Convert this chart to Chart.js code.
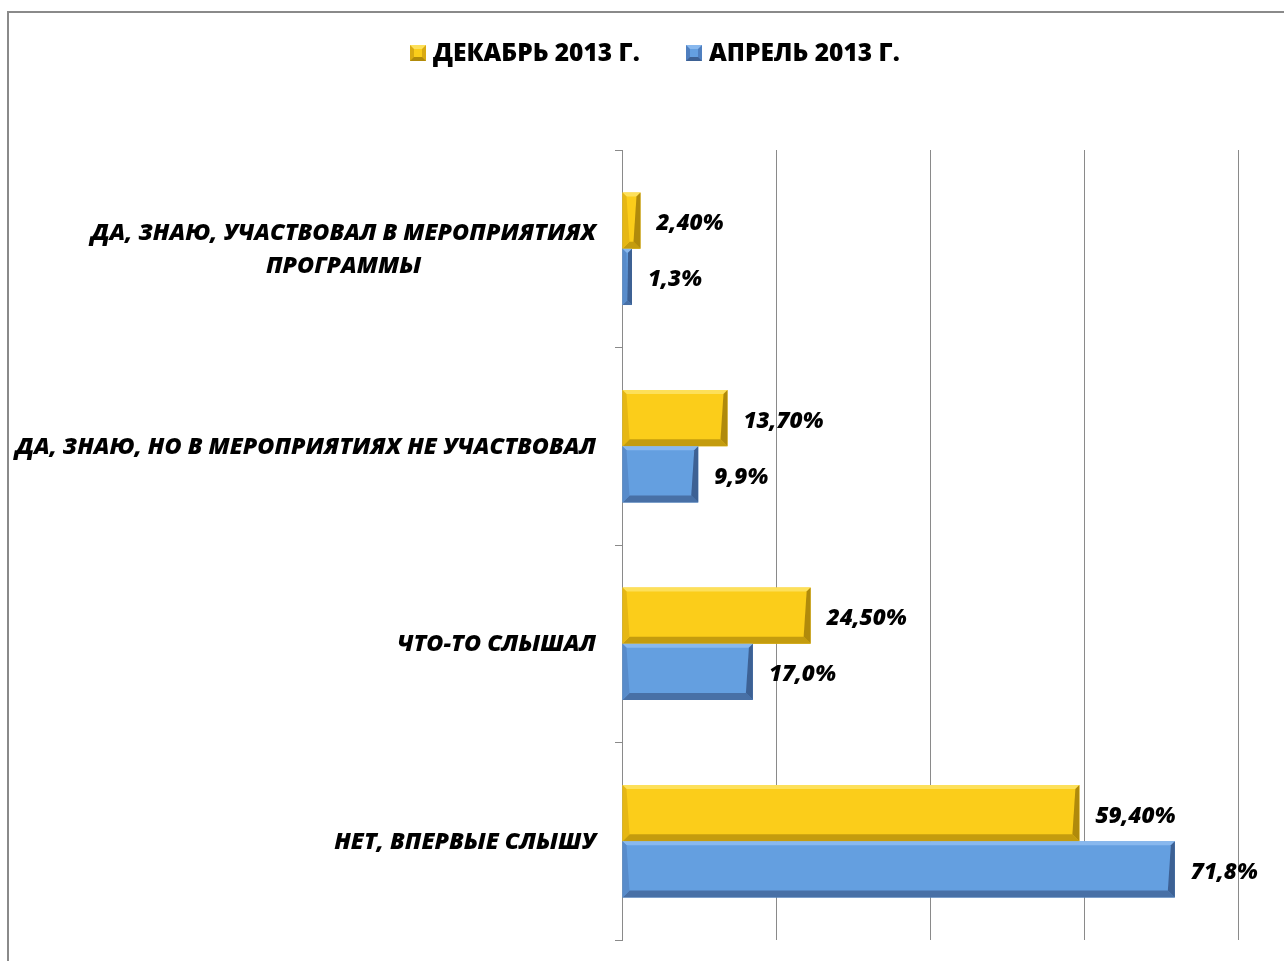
<!DOCTYPE html>
<html>
<head>
<meta charset="utf-8">
<script src="https://cdn.jsdelivr.net/npm/chart.js@4.4.1/dist/chart.umd.min.js"></script>
<style>
    html, body { margin: 0; padding: 0; background: #fff; }
    #wrap { position: relative; width: 1284px; height: 961px; }
</style>
</head>
<body>
<div id="wrap"><canvas id="chart" width="1284" height="961"></canvas></div>
<script>
const categories = [
    ['ДА, ЗНАЮ, УЧАСТВОВАЛ В МЕРОПРИЯТИЯХ', 'ПРОГРАММЫ'],
    'ДА, ЗНАЮ, НО В МЕРОПРИЯТИЯХ НЕ УЧАСТВОВАЛ',
    'ЧТО-ТО СЛЫШАЛ',
    'НЕТ, ВПЕРВЫЕ СЛЫШУ',
];
const seriesNames = ['ДЕКАБРЬ 2013 Г.', 'АПРЕЛЬ 2013 Г.'];
const december = [2.4, 13.7, 24.5, 59.4];
const april = [1.3, 9.9, 17.0, 71.8];
const decemberLabels = ['2,40%', '13,70%', '24,50%', '59,40%'];
const aprilLabels = ['1,3%', '9,9%', '17,0%', '71,8%'];
const xTicks = [0, 20, 40, 60, 80];

const FONT = '"Open Sans", "DejaVu Sans", sans-serif';

// face, top, bottom, left, right
const bevels = [
    { face: '#FBCD1A', top: '#FDE05A', bottom: '#C49C0E', left: '#E6B714', right: '#B08A0B', legend: '#D9AA12' },
    { face: '#649FE0', top: '#88B8EE', bottom: '#4870A6', left: '#588CCB', right: '#3D6194', legend: '#4F7FBF' },
];

// find font size so that text gets the wanted width (the reference uses Calibri)
function fitSize(ctx, style, text, width) {
    ctx.font = `${style} 20px ${FONT}`;
    return 20 * width / ctx.measureText(text).width;
}

const bevelPlugin = {
    id: 'bevel',
    beforeDraw(chart) {
        const { ctx } = chart;
        ctx.save();
        ctx.strokeStyle = '#8a8a8a';
        ctx.lineWidth = 2;
        ctx.strokeRect(8, 12, 2000, 2000);
        ctx.restore();
    },
    afterDatasetsDraw(chart) {
        const { ctx } = chart;
        ctx.save();
        chart.data.datasets.forEach((ds, di) => {
            const c = bevels[di];
            chart.getDatasetMeta(di).data.forEach((bar) => {
                const { x, y, base, height } = bar.getProps(['x', 'y', 'base', 'height'], true);
                const l = base, r = x, t = y - height / 2, bm = y + height / 2;
                const b = Math.min(7, (r - l) / 2);
                const bt = Math.min(4, b);
                const poly = (pts, col) => {
                    ctx.fillStyle = col;
                    ctx.beginPath();
                    ctx.moveTo(pts[0][0], pts[0][1]);
                    pts.slice(1).forEach((p) => ctx.lineTo(p[0], p[1]));
                    ctx.closePath();
                    ctx.fill();
                };
                poly([[l, t], [r, t], [r - bt, t + bt], [l + bt, t + bt]], c.top);
                poly([[l, bm], [r, bm], [r - b, bm - b], [l + b, bm - b]], c.bottom);
                poly([[l, t], [l + bt, t + bt], [l + b, bm - b], [l, bm]], c.left);
                poly([[r, t], [r - bt, t + bt], [r - b, bm - b], [r, bm]], c.right);
            });
        });

        // value labels
        ctx.fillStyle = '#000';
        const vSize = fitSize(ctx, 'italic 800', '59,40%', 80);
        ctx.font = `italic 800 ${vSize}px ${FONT}`;
        ctx.textAlign = 'left';
        ctx.textBaseline = 'middle';
        const texts = [decemberLabels, aprilLabels];
        chart.data.datasets.forEach((ds, di) => {
            chart.getDatasetMeta(di).data.forEach((bar, i) => {
                const { x, y } = bar.getProps(['x', 'y'], true);
                ctx.fillText(texts[di][i], x + 16, y + 3);
            });
        });

        // category labels, right edge at 596, multi-line centred on each other
        const yScale = chart.scales.y;
        const cSize = fitSize(ctx, 'italic 800', categories[1], 581);
        ctx.font = `italic 800 ${cSize}px ${FONT}`;
        ctx.textAlign = 'center';
        categories.forEach((cat, i) => {
            const lines = Array.isArray(cat) ? cat : [cat];
            const w = Math.max(...lines.map((s) => ctx.measureText(s).width));
            const cx = 596 - w / 2;
            const cy = yScale.getPixelForValue(i);
            const lh = 33;
            lines.forEach((s, k) => {
                ctx.fillText(s, cx, cy + 1 + (k - (lines.length - 1) / 2) * lh);
            });
        });

        // legend
        const lSize = fitSize(ctx, '800', seriesNames[0], 207);
        ctx.font = `800 ${lSize}px ${FONT}`;
        ctx.textAlign = 'left';
        const box = 16, gap = 7;
        let lx = 410;
        const ly = 53;
        seriesNames.forEach((s, i) => {
            const c = bevels[i];
            const bx = lx, by = ly - box / 2, bb = 4;
            ctx.fillStyle = c.legend;
            ctx.fillRect(bx, by, box, box);
            ctx.fillStyle = c.top;
            ctx.beginPath();
            ctx.moveTo(bx, by); ctx.lineTo(bx + box, by); ctx.lineTo(bx + box / 2, by + box / 2); ctx.closePath(); ctx.fill();
            ctx.fillStyle = c.right;
            ctx.beginPath();
            ctx.moveTo(bx, by + box); ctx.lineTo(bx + box, by + box); ctx.lineTo(bx + box / 2, by + box / 2); ctx.closePath(); ctx.fill();
            ctx.fillStyle = c.face;
            ctx.fillRect(bx + bb, by + bb, box - 2 * bb, box - 2 * bb);
            ctx.fillStyle = '#000';
            ctx.fillText(s, bx + box + gap, ly + 1);
            lx = 686;
        });
        ctx.restore();
    },
};

new Chart(document.getElementById('chart'), {
    type: 'bar',
    data: {
        labels: categories,
        datasets: [
            { label: seriesNames[0], data: december, backgroundColor: bevels[0].face },
            { label: seriesNames[1], data: april, backgroundColor: bevels[1].face },
        ],
    },
    options: {
        indexAxis: 'y',
        responsive: false,
        animation: false,
        events: [],
        layout: { padding: { left: 615, right: 46, top: 150, bottom: 21 } },
        categoryPercentage: 0.57,
        barPercentage: 1,
        plugins: {
            legend: { display: false },
            tooltip: { enabled: false },
        },
        scales: {
            x: {
                min: xTicks[0],
                max: xTicks[xTicks.length - 1],
                afterBuildTicks: (axis) => { axis.ticks = xTicks.map((v) => ({ value: v })); },
                ticks: { display: false },
                grid: { color: '#8a8a8a', lineWidth: 1, drawTicks: false },
                border: { display: false },
            },
            y: {
                ticks: { display: false },
                grid: { offset: true, drawOnChartArea: false, drawTicks: true, tickLength: 7, color: '#8a8a8a' },
                border: { display: true, color: '#8a8a8a', width: 1 },
            },
        },
    },
    plugins: [bevelPlugin],
});
</script>
</body>
</html>
